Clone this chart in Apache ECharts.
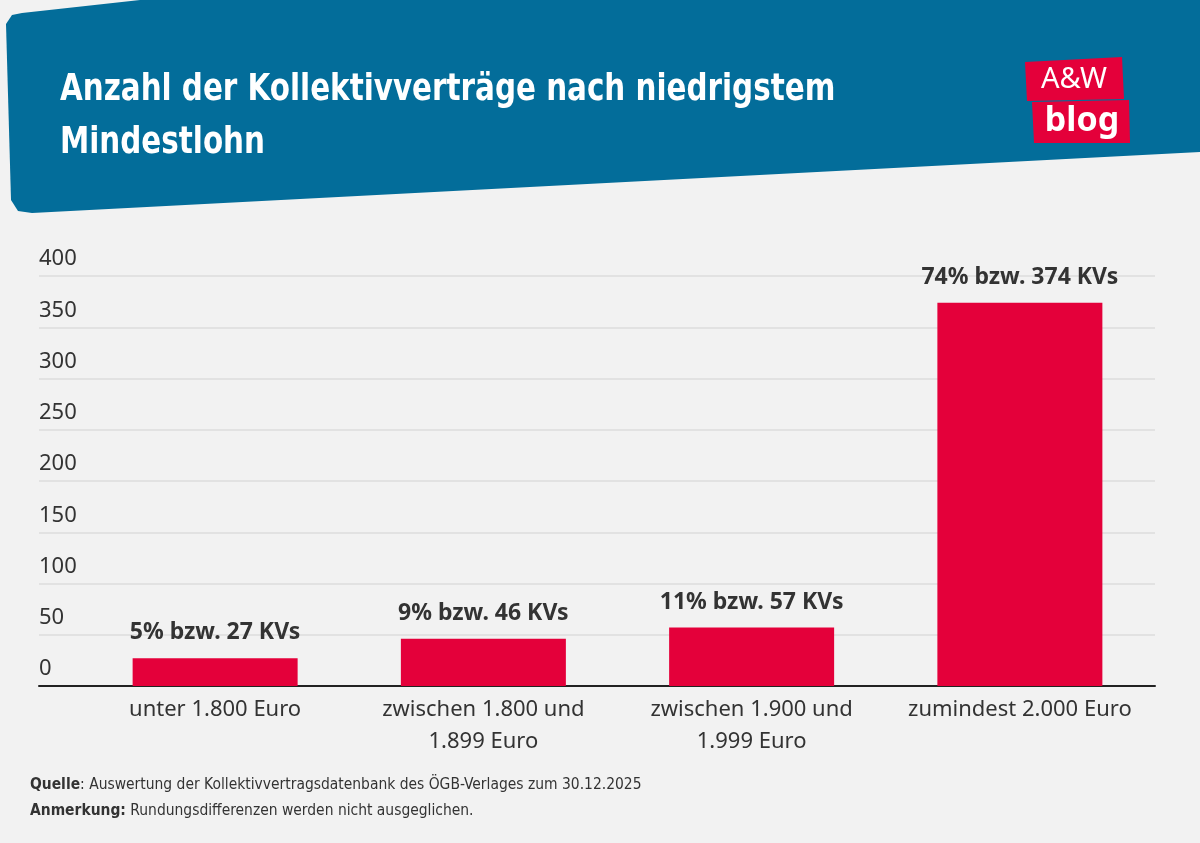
<!DOCTYPE html>
<html>
<head>
<meta charset="utf-8">
<script src="https://cdn.jsdelivr.net/npm/echarts@6/dist/echarts.min.js"></script>
<style>
html,body{margin:0;padding:0;background:#f2f2f2;}
#chart{width:1200px;height:843px;}
</style>
</head>
<body>
<div id="chart"></div>
<script>
// Daten
var categories = ['unter 1.800 Euro', 'zwischen 1.800 und\n1.899 Euro', 'zwischen 1.900 und\n1.999 Euro', 'zumindest 2.000 Euro'];
var counts = [27, 46, 57, 374];
var percents = [5, 9, 11, 74];
var yTicks = [0, 50, 100, 150, 200, 250, 300, 350, 400];

var red = '#e4003a';
var blue = '#036d9a';
var textCol = '#333333';
var narrow = '"Liberation Sans Narrow", "DejaVu Sans Condensed", sans-serif';

var chart = echarts.init(document.getElementById('chart'));
chart.setOption({
    backgroundColor: '#f2f2f2',
    animation: false,
    grid: [
        {left: 39, right: 45, top: 276, bottom: 157},
        {left: 81, right: 46, top: 276, bottom: 157}
    ],
    xAxis: [
        {
            gridIndex: 0, type: 'value', min: 0, max: 1,
            axisLine: {show: true, lineStyle: {color: '#222', width: 2}},
            axisTick: {show: false}, axisLabel: {show: false}, splitLine: {show: false}
        },
        {
            gridIndex: 1, type: 'category', data: categories,
            axisLine: {show: false}, axisTick: {show: false},
            axisLabel: {
                interval: 0,
                color: textCol, fontSize: 22, fontFamily: 'Noto Sans',
                lineHeight: 32, margin: 8
            }
        }
    ],
    yAxis: [
        {
            gridIndex: 0, type: 'value', min: 0, max: 400, interval: 50,
            axisLine: {show: false}, axisTick: {show: false},
            axisLabel: {
                inside: true, align: 'left', verticalAlign: 'bottom', margin: 0,
                padding: [0, 0, 6, 0],
                color: textCol, fontSize: 22, fontFamily: 'Noto Sans',
                formatter: function (v) { return yTicks.indexOf(v) >= 0 ? String(v) : ''; }
            },
            splitLine: {lineStyle: {color: '#dcdcdc', width: 1.5}}
        },
        {
            gridIndex: 1, type: 'value', min: 0, max: 400, show: false
        }
    ],
    series: [{
        type: 'bar',
        xAxisIndex: 1,
        yAxisIndex: 1,
        data: counts,
        barWidth: 165,
        itemStyle: {color: red},
        label: {
            show: true, position: 'top', distance: 14,
            color: textCol, fontSize: 23, fontWeight: 'bold', fontFamily: 'Noto Sans',
            formatter: function (p) {
                return percents[p.dataIndex] + '% bzw. ' + p.value + ' KVs';
            }
        }
    }],
    graphic: [
        {
            type: 'polygon', z: -1,
            shape: {points: [[6, 24], [12, 15], [22, 13], [140, 0], [1200, 0], [1200, 152], [32, 213], [18, 211], [11, 200]]},
            style: {fill: blue}
        },
        {
            type: 'text', x: 60, y: 64, scaleX: 0.86,
            style: {
                text: 'Anzahl der Kollektivverträge nach niedrigstem\nMindestlohn',
                fill: '#ffffff', fontSize: 38, fontWeight: 'bold', lineHeight: 53,
                fontFamily: narrow
            }
        },
        {
            type: 'polygon',
            shape: {points: [[1025, 62], [1122, 57], [1124, 99], [1027, 101]]},
            style: {fill: red}
        },
        {
            type: 'polygon',
            shape: {points: [[1032, 102], [1129, 100], [1130, 143], [1034, 143]]},
            style: {fill: red}
        },
        {
            type: 'text', x: 1074, y: 80,
            style: {
                text: 'A&W', fill: '#fff', fontSize: 29, fontFamily: 'Noto Sans',
                align: 'center', verticalAlign: 'middle'
            }
        },
        {
            type: 'text', x: 1082, y: 121,
            style: {
                text: 'blog', fill: '#fff', fontSize: 34, fontWeight: 'bold', fontFamily: 'Noto Sans',
                align: 'center', verticalAlign: 'middle'
            }
        },
        {
            type: 'text', x: 30, y: 772, scaleX: 0.965,
            style: {
                text: '{b|Quelle}: Auswertung der Kollektivvertragsdatenbank des ÖGB-Verlages zum 30.12.2025\n{b|Anmerkung:} Rundungsdifferenzen werden nicht ausgeglichen.',
                fill: textCol, fontSize: 16, lineHeight: 26,
                fontFamily: narrow,
                rich: {b: {fontWeight: 'bold', fontSize: 16, fill: textCol, fontFamily: narrow}}
            }
        }
    ]
});
</script>
</body>
</html>
